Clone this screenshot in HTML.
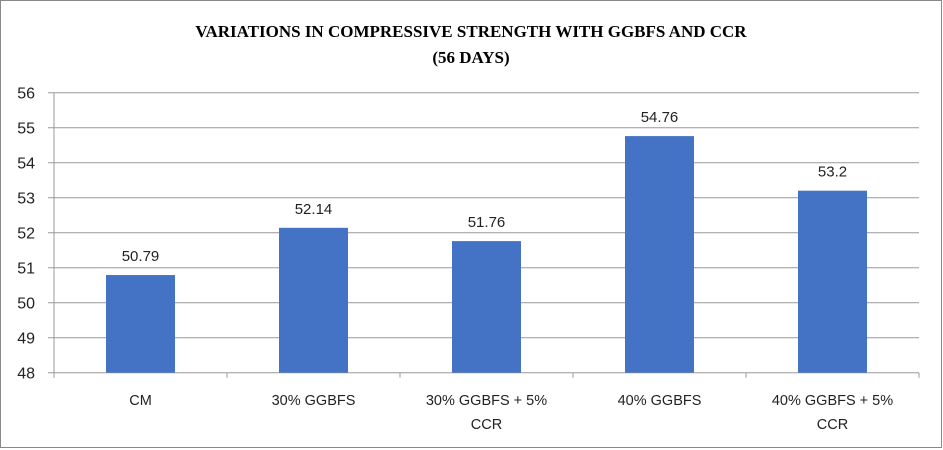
<!DOCTYPE html>
<html><head><meta charset="utf-8"><style>
body{margin:0;background:#fff}
svg{display:block}
</style></head><body>
<svg id="chart" width="943" height="450" xmlns="http://www.w3.org/2000/svg">
<rect x="0.5" y="0.5" width="941" height="447" fill="#fff" stroke="#888" stroke-width="1"/>
<text x="471" y="37" text-anchor="middle" font-family="Liberation Serif, serif" font-weight="bold" font-size="17" fill="#000">VARIATIONS  IN  COMPRESSIVE STRENGTH  WITH GGBFS AND CCR</text>
<text x="471" y="63" text-anchor="middle" font-family="Liberation Serif, serif" font-weight="bold" font-size="17" fill="#000">(56 DAYS)</text>
<g id="grid"></g><g id="bars"></g><g id="labels"></g>
</svg>
<script>
const categories = [["CM"],["30% GGBFS"],["30% GGBFS + 5%","CCR"],["40% GGBFS"],["40% GGBFS + 5%","CCR"]];
const values = [50.79, 52.14, 51.76, 54.76, 53.2];
const valueLabels = ["50.79","52.14","51.76","54.76","53.2"];
const yTicks = [48,49,50,51,52,53,54,55,56];
const NS="http://www.w3.org/2000/svg";
const x0=54, x1=919, yTop=92.7, yBot=372.7, yMin=48, yMax=56;
const band=(x1-x0)/categories.length, barW=69;
const y=v=>yBot-(v-yMin)/(yMax-yMin)*(yBot-yTop);
const xc=i=>x0+band*(i+0.5);
function mk(tag,attrs,parent){const e=document.createElementNS(NS,tag);for(const k in attrs)e.setAttribute(k,attrs[k]);parent.appendChild(e);return e;}
const grid=document.getElementById('grid'), bars=document.getElementById('bars'), labels=document.getElementById('labels');
yTicks.forEach(t=>{
  const l=mk('line',{x1:x0-6,x2:x1,y1:y(t),y2:y(t),stroke:'#999','stroke-width':1},grid);
  
  
  const tx=mk('text',{x:35,y:y(t)+6,'text-anchor':'end','font-family':'Liberation Sans, sans-serif','font-size':16,fill:'#222'},grid);
  tx.textContent=t;
  
  
});
const ax=mk('line',{x1:x0,x2:x0,y1:yTop,y2:yBot+5,stroke:'#999','stroke-width':1},grid);


for(let i=0;i<=categories.length;i++){
  const t=mk('line',{x1:x0+band*i,x2:x0+band*i,y1:yBot,y2:yBot+5,stroke:'#999','stroke-width':1},grid);
  
  
}
values.forEach((v,i)=>{
  const r=mk('rect',{x:xc(i)-barW/2,y:y(v),width:barW,height:yBot-y(v),fill:'#4472C4'},bars);
  
  
  const tl=mk('text',{x:xc(i),y:y(v)-14,'text-anchor':'middle','font-family':'Liberation Sans, sans-serif','font-size':15,fill:'#222'},labels);
  tl.textContent=valueLabels[i];
  
  
  categories[i].forEach((line,j)=>{
    const c=mk('text',{x:xc(i),y:405+j*24,'text-anchor':'middle','font-family':'Liberation Sans, sans-serif','font-size':14.5,fill:'#222'},labels);
    c.textContent=line;
    
    
  });
});
</script>
</body></html>
